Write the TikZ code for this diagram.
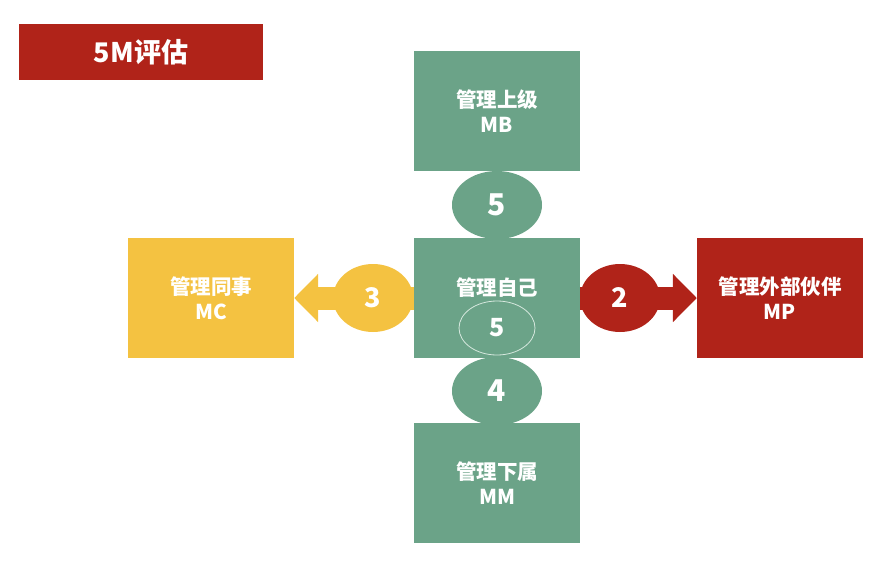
\documentclass[tikz,border=0pt]{standalone}
\usepackage{fontspec}
\setmainfont{Noto Sans CJK SC}
\usepackage{tikz}
\usetikzlibrary{shapes,arrows.meta}
\definecolor{m_green}{RGB}{107, 163, 136}
\definecolor{m_yellow}{RGB}{244, 194, 65}
\definecolor{m_red}{RGB}{176, 35, 25}
\definecolor{m_line}{RGB}{214, 232, 222}
\tikzstyle{box}=[rectangle,inner sep=0pt,minimum width=166pt,minimum height=120pt,
  text=white,align=center,font=\bfseries\fontsize{20.5}{25}\selectfont]
\tikzstyle{gb}=[box,fill=m_green]
\tikzstyle{yb}=[box,fill=m_yellow]
\tikzstyle{rb}=[box,fill=m_red]
\tikzstyle{num}=[ellipse,inner sep=0pt,minimum width=90pt,minimum height=68pt,
  text=white,font=\bfseries\fontsize{30}{30}\selectfont]
\tikzstyle{side}=[num,minimum width=80pt,font=\bfseries\fontsize{27}{30}\selectfont]
\tikzstyle{ring}=[ellipse,draw=m_line,line width=0.8pt,inner sep=0pt,
  minimum width=76pt,minimum height=54pt,text=white,
  font=\bfseries\fontsize{25}{26}\selectfont]
\tikzstyle{title}=[rectangle,fill=m_red,inner sep=0pt,minimum width=244pt,
  minimum height=56pt,text=white,font=\bfseries\fontsize{27}{28}\selectfont]
\tikzstyle{arr}=[line width=23pt,-{Triangle[length=24pt,width=47pt]}]

\begin{document}
\begin{tikzpicture}[x=1pt,y=-1pt]
    \useasboundingbox (0,0) rectangle (890,562);
    \node [style=title] (head) at (141,52) {5M评估};
    \node [style=gb] (mb) at (497,111) {管理上级\\MB};
    \node [style=gb] (self) at (497,298) {};
    \node [style=gb] (mm) at (497,483) {管理下属\\MM};
    \node [style=yb] (mc) at (211,298) {管理同事\\MC};
    \node [style=rb] (mp) at (780,298) {管理外部伙伴\\MP};
    \draw [style=arr,draw=m_yellow] (self.west) to (mc.east);
    \draw [style=arr,draw=m_red] (self.east) to (mp.west);
    \node [style=num,fill=m_green] (upn) at (497,205) {5};
    \node [style=num,fill=m_green] (downn) at (497,391) {4};
    \node [style=side,fill=m_yellow] (leftn) at (373,298) {3};
    \node [style=side,fill=m_red] (rightn) at (620,298) {2};
    \node [text=white,font=\bfseries\fontsize{20.5}{25}\selectfont] (selft) at (497,288) {管理自己};
    \node [style=ring] (selfn) at (497,328) {5};
  \end{tikzpicture}
\end{document}
